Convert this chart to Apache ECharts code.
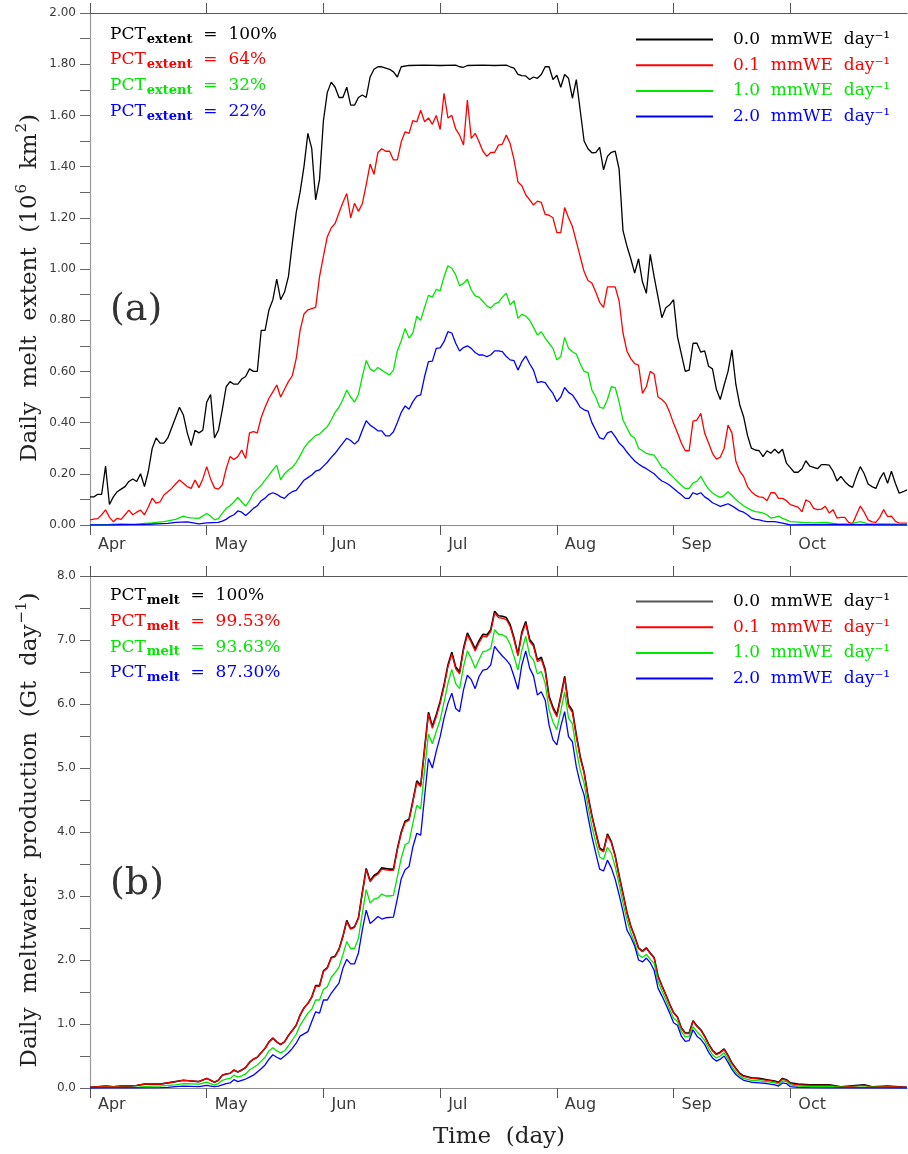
<!DOCTYPE html>
<html>
<head>
<meta charset="utf-8">
<title>Daily melt extent and meltwater production</title>
<script src="https://cdn.jsdelivr.net/npm/echarts@6/dist/echarts.min.js"></script>
<style>
  html, body { margin: 0; padding: 0; background: #ffffff; }
  #chart { width: 908px; height: 1154px; }
</style>
</head>
<body>
<div id="chart"></div>
<script>
// Days counted from 1 April; one month tick every 30 days.
const monthNames = ['Apr', 'May', 'Jun', 'Jul', 'Aug', 'Sep', 'Oct'];
const monthTicks = [0, 30, 60, 90, 120, 150, 180];

// Melt thresholds (legend) and summary percentages
const thresholdValues = ['0.0', '0.1', '1.0', '2.0'];
const thresholdNames = thresholdValues.map(function (t) { return t + ' mmWE day\u207B\u00B9'; });
const seriesColors = ['#000000', '#ff0000', '#00e600', '#0000ff'];
const pctExtent = ['100%', '64%', '32%', '22%'];
const pctMelt = ['100%', '99.53%', '93.63%', '87.30%'];

// (a) Daily melt extent, 10^6 km^2, as [day, value]
const extent00 = [[0,0.11],[1,0.11],[2,0.12],[3,0.12],[4,0.23],[5,0.08],[6,0.11],[7,0.13],[8,0.14],[9,0.15],[10,0.17],[11,0.18],[12,0.17],[13,0.20],[14,0.15],[15,0.21],[16,0.30],[17,0.34],[18,0.32],[19,0.32],[20,0.34],[21,0.38],[22,0.42],[23,0.46],[24,0.43],[25,0.36],[26,0.31],[27,0.37],[28,0.36],[29,0.37],[30,0.48],[31,0.51],[32,0.34],[33,0.37],[34,0.45],[35,0.54],[36,0.56],[37,0.55],[38,0.55],[39,0.57],[40,0.58],[41,0.61],[42,0.60],[43,0.60],[44,0.76],[45,0.76],[46,0.84],[47,0.88],[48,0.96],[49,0.88],[50,0.91],[51,0.97],[52,1.10],[53,1.22],[54,1.30],[55,1.40],[56,1.53],[57,1.47],[58,1.27],[59,1.35],[60,1.58],[61,1.69],[62,1.73],[63,1.71],[64,1.67],[65,1.67],[66,1.71],[67,1.64],[68,1.64],[69,1.67],[70,1.68],[71,1.67],[72,1.75],[73,1.78],[74,1.79],[75,1.79],[76,1.785],[77,1.78],[78,1.77],[79,1.75],[80,1.79],[82,1.795],[86,1.796],[90,1.795],[94,1.796],[95,1.79],[96,1.788],[97,1.795],[101,1.796],[104,1.795],[107,1.796],[108,1.79],[109,1.785],[110,1.76],[111,1.755],[112,1.754],[113,1.74],[114,1.75],[115,1.745],[116,1.76],[117,1.79],[118,1.79],[119,1.74],[120,1.757],[121,1.71],[122,1.76],[123,1.745],[124,1.667],[125,1.74],[126,1.62],[127,1.50],[128,1.47],[129,1.454],[130,1.455],[131,1.475],[132,1.387],[133,1.44],[134,1.456],[135,1.46],[136,1.39],[137,1.15],[138,1.09],[139,1.04],[140,0.984],[141,1.04],[142,0.95],[143,0.905],[144,1.057],[145,0.97],[147,0.81],[148,0.849],[149,0.86],[150,0.88],[151,0.736],[153,0.60],[154,0.605],[155,0.71],[156,0.71],[157,0.675],[158,0.68],[159,0.62],[160,0.61],[161,0.53],[162,0.49],[163,0.547],[164,0.60],[165,0.684],[166,0.55],[167,0.47],[168,0.423],[169,0.35],[170,0.30],[171,0.293],[172,0.29],[173,0.267],[174,0.29],[175,0.28],[176,0.296],[177,0.28],[178,0.296],[179,0.242],[180,0.224],[181,0.206],[182,0.206],[183,0.22],[184,0.251],[185,0.23],[186,0.225],[187,0.22],[188,0.236],[189,0.236],[190,0.234],[191,0.21],[192,0.172],[193,0.19],[194,0.17],[195,0.155],[196,0.147],[197,0.19],[198,0.228],[199,0.20],[200,0.16],[201,0.15],[202,0.143],[203,0.18],[204,0.205],[205,0.163],[206,0.21],[207,0.163],[208,0.124],[209,0.13],[210,0.137]];
const extent01 = [[0,0.02],[1,0.023],[2,0.025],[3,0.04],[4,0.059],[5,0.03],[6,0.013],[7,0.026],[8,0.022],[9,0.04],[10,0.058],[11,0.04],[12,0.05],[13,0.058],[14,0.04],[15,0.07],[16,0.105],[17,0.085],[18,0.09],[19,0.117],[20,0.13],[21,0.143],[22,0.16],[23,0.176],[24,0.163],[25,0.15],[26,0.143],[27,0.176],[28,0.146],[29,0.18],[30,0.228],[31,0.18],[32,0.145],[33,0.14],[34,0.156],[35,0.22],[36,0.267],[37,0.256],[38,0.267],[39,0.293],[40,0.26],[41,0.36],[42,0.365],[43,0.36],[44,0.42],[45,0.46],[46,0.495],[47,0.52],[48,0.547],[49,0.50],[50,0.53],[51,0.56],[52,0.583],[53,0.65],[54,0.76],[55,0.824],[56,0.84],[57,0.845],[58,0.85],[59,0.97],[60,1.05],[61,1.126],[62,1.16],[63,1.178],[64,1.22],[65,1.26],[66,1.295],[67,1.20],[68,1.257],[69,1.225],[70,1.255],[71,1.33],[72,1.41],[73,1.37],[74,1.455],[75,1.47],[76,1.46],[77,1.46],[78,1.426],[79,1.426],[80,1.497],[81,1.536],[82,1.53],[83,1.58],[84,1.575],[85,1.62],[86,1.575],[87,1.59],[88,1.565],[89,1.60],[90,1.545],[91,1.686],[92,1.59],[93,1.60],[94,1.547],[95,1.523],[96,1.484],[97,1.66],[98,1.51],[99,1.53],[100,1.497],[101,1.46],[102,1.44],[103,1.455],[104,1.455],[105,1.484],[106,1.488],[107,1.523],[108,1.49],[109,1.426],[110,1.34],[111,1.325],[112,1.29],[113,1.27],[114,1.25],[115,1.265],[116,1.26],[117,1.213],[118,1.21],[119,1.20],[120,1.142],[121,1.142],[122,1.24],[123,1.20],[124,1.166],[125,1.107],[126,1.048],[127,0.99],[128,0.955],[129,0.945],[130,0.91],[131,0.87],[132,0.85],[133,0.93],[134,0.93],[135,0.93],[136,0.875],[137,0.75],[138,0.68],[139,0.65],[140,0.63],[141,0.625],[142,0.514],[143,0.54],[144,0.60],[145,0.59],[146,0.50],[147,0.49],[148,0.475],[149,0.44],[150,0.397],[151,0.36],[152,0.32],[153,0.29],[154,0.29],[155,0.406],[156,0.41],[157,0.436],[158,0.358],[159,0.32],[160,0.28],[161,0.257],[162,0.265],[163,0.30],[164,0.39],[165,0.36],[166,0.25],[167,0.21],[168,0.19],[169,0.15],[170,0.13],[171,0.117],[172,0.11],[173,0.108],[174,0.095],[175,0.126],[176,0.126],[177,0.104],[178,0.104],[179,0.095],[180,0.08],[181,0.075],[182,0.07],[183,0.052],[184,0.098],[185,0.09],[186,0.065],[187,0.06],[188,0.062],[189,0.073],[190,0.047],[191,0.06],[192,0.027],[193,0.03],[194,0.03],[195,0.01],[196,0.005],[197,0.04],[198,0.074],[199,0.05],[200,0.02],[201,0.012],[202,0.01],[203,0.03],[204,0.06],[205,0.033],[206,0.035],[207,0.015],[208,0.007],[209,0.007],[210,0.007]];
const extent10 = [[0,0],[5,0.002],[8,0.004],[11,0.0],[14,0.006],[16,0.008],[19,0.013],[22,0.022],[24,0.035],[25,0.03],[26,0.028],[28,0.026],[30,0.045],[31,0.035],[32,0.02],[33,0.025],[34,0.045],[35,0.065],[36,0.075],[37,0.09],[38,0.108],[39,0.09],[40,0.074],[41,0.095],[42,0.125],[43,0.14],[44,0.155],[45,0.175],[46,0.195],[47,0.215],[48,0.234],[49,0.176],[50,0.20],[51,0.215],[52,0.225],[53,0.245],[54,0.27],[55,0.30],[56,0.32],[57,0.335],[58,0.35],[59,0.355],[60,0.37],[61,0.384],[62,0.41],[63,0.44],[64,0.46],[65,0.49],[66,0.527],[67,0.50],[68,0.48],[69,0.51],[70,0.58],[71,0.642],[72,0.61],[73,0.60],[74,0.615],[75,0.605],[76,0.595],[77,0.586],[78,0.605],[79,0.68],[80,0.72],[81,0.768],[82,0.73],[83,0.75],[84,0.816],[85,0.80],[86,0.85],[87,0.897],[88,0.89],[89,0.92],[90,0.915],[91,0.97],[92,1.013],[93,1.003],[94,0.977],[95,0.934],[96,0.944],[97,0.96],[98,0.918],[99,0.895],[100,0.89],[101,0.873],[102,0.856],[103,0.847],[104,0.864],[105,0.87],[106,0.89],[107,0.905],[108,0.86],[109,0.876],[110,0.807],[111,0.823],[112,0.816],[113,0.80],[114,0.772],[115,0.742],[116,0.755],[117,0.73],[118,0.71],[119,0.69],[120,0.645],[121,0.658],[122,0.733],[123,0.69],[124,0.677],[125,0.668],[126,0.63],[127,0.60],[128,0.595],[129,0.527],[130,0.50],[131,0.46],[132,0.456],[133,0.49],[134,0.54],[135,0.537],[136,0.48],[137,0.41],[138,0.38],[139,0.35],[140,0.34],[141,0.30],[142,0.29],[143,0.28],[144,0.276],[145,0.273],[146,0.25],[147,0.225],[148,0.218],[149,0.20],[150,0.185],[151,0.17],[152,0.155],[153,0.143],[154,0.143],[155,0.165],[156,0.17],[157,0.19],[158,0.163],[159,0.14],[160,0.125],[161,0.115],[162,0.108],[163,0.115],[164,0.13],[165,0.115],[166,0.1],[167,0.087],[168,0.075],[169,0.066],[170,0.058],[171,0.052],[172,0.05],[173,0.046],[174,0.04],[175,0.027],[176,0.03],[177,0.035],[178,0.026],[179,0.02],[180,0.013],[183,0.01],[186,0.008],[189,0.01],[192,0.004],[195,0.003],[198,0.013],[200,0.004],[205,0.004],[210,0.003]];
const extent20 = [[0,0],[5,0.0],[10,0.002],[15,0.003],[20,0.006],[22,0.01],[25,0.012],[28,0.004],[30,0.008],[33,0.01],[34,0.015],[35,0.022],[36,0.033],[37,0.04],[38,0.055],[39,0.05],[40,0.037],[41,0.05],[42,0.065],[43,0.075],[44,0.095],[45,0.105],[46,0.12],[47,0.126],[48,0.12],[49,0.11],[50,0.104],[51,0.12],[52,0.13],[53,0.135],[54,0.155],[55,0.175],[56,0.185],[57,0.195],[58,0.21],[59,0.215],[60,0.23],[61,0.245],[62,0.264],[63,0.28],[64,0.30],[65,0.32],[66,0.339],[67,0.33],[68,0.316],[69,0.33],[70,0.37],[71,0.407],[72,0.39],[73,0.38],[74,0.368],[75,0.368],[76,0.348],[77,0.348],[78,0.364],[79,0.40],[80,0.44],[81,0.465],[82,0.452],[83,0.482],[84,0.503],[85,0.508],[86,0.58],[87,0.638],[88,0.64],[89,0.69],[90,0.692],[91,0.716],[92,0.755],[93,0.75],[94,0.71],[95,0.68],[96,0.693],[97,0.70],[98,0.69],[99,0.674],[100,0.664],[101,0.664],[102,0.658],[103,0.664],[104,0.68],[105,0.68],[106,0.677],[107,0.658],[108,0.645],[109,0.642],[110,0.605],[111,0.638],[112,0.66],[113,0.63],[114,0.605],[115,0.556],[116,0.56],[117,0.556],[118,0.534],[119,0.514],[120,0.482],[121,0.50],[122,0.537],[123,0.518],[124,0.508],[125,0.486],[126,0.46],[127,0.45],[128,0.445],[129,0.40],[130,0.37],[131,0.34],[132,0.335],[133,0.36],[134,0.366],[135,0.345],[136,0.32],[137,0.306],[138,0.285],[139,0.267],[140,0.25],[141,0.238],[142,0.228],[143,0.22],[144,0.21],[145,0.2],[146,0.185],[147,0.172],[148,0.165],[149,0.155],[150,0.143],[151,0.13],[152,0.118],[153,0.104],[154,0.104],[155,0.126],[156,0.12],[157,0.126],[158,0.11],[159,0.1],[160,0.087],[161,0.08],[162,0.073],[163,0.078],[164,0.083],[165,0.075],[166,0.065],[167,0.055],[168,0.05],[169,0.04],[170,0.027],[171,0.022],[172,0.02],[173,0.016],[174,0.013],[176,0.013],[178,0.007],[180,0.0],[190,0.002],[200,0.001],[210,0.0]];

// (b) Daily meltwater production, Gt day^-1, as [day, value]
const melt00 = [[0,0.01],[2,0.02],[4,0.03],[6,0.02],[8,0.03],[10,0.03],[12,0.04],[14,0.06],[16,0.06],[18,0.06],[20,0.08],[22,0.10],[24,0.12],[26,0.11],[28,0.10],[30,0.15],[31,0.12],[32,0.09],[33,0.12],[34,0.20],[35,0.22],[36,0.23],[37,0.28],[38,0.25],[39,0.28],[40,0.32],[41,0.40],[42,0.45],[43,0.48],[44,0.55],[45,0.62],[46,0.72],[47,0.78],[48,0.72],[49,0.68],[50,0.72],[51,0.82],[52,0.90],[53,0.98],[54,1.14],[55,1.25],[56,1.32],[57,1.42],[58,1.60],[59,1.60],[60,1.83],[61,1.88],[62,2.04],[63,2.06],[64,2.17],[65,2.37],[66,2.62],[67,2.49],[68,2.52],[69,2.66],[70,3.06],[71,3.43],[72,3.24],[73,3.32],[74,3.36],[75,3.44],[76,3.43],[77,3.42],[78,3.42],[79,3.74],[80,4.00],[81,4.17],[82,4.20],[83,4.49],[84,4.80],[85,4.73],[86,5.31],[87,5.87],[88,5.65],[89,5.83],[90,6.04],[91,6.30],[92,6.61],[93,6.81],[94,6.58],[95,6.50],[96,6.87],[97,7.11],[98,6.99],[99,6.86],[100,6.99],[101,7.09],[102,7.08],[103,7.16],[104,7.45],[105,7.38],[106,7.37],[107,7.35],[108,7.24],[109,7.03],[110,6.78],[111,7.12],[112,7.29],[113,7.01],[114,6.93],[115,6.69],[116,6.73],[117,6.54],[118,6.12],[119,5.95],[120,5.83],[121,6.12],[122,6.43],[123,5.99],[124,5.90],[125,5.52],[126,5.18],[127,4.94],[128,4.57],[129,4.26],[130,4.00],[131,3.75],[132,3.71],[133,3.97],[134,3.85],[135,3.63],[136,3.32],[137,3.04],[138,2.75],[139,2.53],[140,2.37],[141,2.19],[142,2.14],[143,2.19],[144,2.11],[145,2.04],[146,1.75],[147,1.60],[148,1.46],[149,1.31],[150,1.18],[151,1.11],[152,0.94],[153,0.86],[154,0.86],[155,1.05],[156,0.97],[157,0.91],[158,0.81],[159,0.69],[160,0.59],[161,0.53],[162,0.56],[163,0.61],[164,0.51],[165,0.39],[166,0.31],[167,0.23],[168,0.19],[170,0.16],[172,0.15],[174,0.13],[176,0.11],[177,0.09],[178,0.15],[179,0.13],[180,0.08],[182,0.06],[185,0.05],[190,0.05],[193,0.02],[199,0.05],[201,0.02],[205,0.03],[210,0.01]];
const melt01 = [[0,0.01],[2,0.02],[4,0.03],[6,0.02],[8,0.03],[10,0.03],[12,0.04],[14,0.06],[16,0.06],[18,0.06],[20,0.08],[22,0.10],[24,0.12],[26,0.11],[28,0.10],[30,0.15],[31,0.12],[32,0.09],[33,0.12],[34,0.20],[35,0.22],[36,0.23],[37,0.28],[38,0.25],[39,0.28],[40,0.32],[41,0.40],[42,0.45],[43,0.48],[44,0.55],[45,0.62],[46,0.72],[47,0.78],[48,0.72],[49,0.68],[50,0.72],[51,0.82],[52,0.90],[53,0.98],[54,1.14],[55,1.25],[56,1.32],[57,1.42],[58,1.59],[59,1.59],[60,1.82],[61,1.87],[62,2.03],[63,2.05],[64,2.16],[65,2.36],[66,2.60],[67,2.48],[68,2.51],[69,2.65],[70,3.04],[71,3.41],[72,3.22],[73,3.30],[74,3.34],[75,3.42],[76,3.41],[77,3.40],[78,3.40],[79,3.72],[80,3.98],[81,4.15],[82,4.18],[83,4.47],[84,4.77],[85,4.71],[86,5.28],[87,5.84],[88,5.62],[89,5.80],[90,6.01],[91,6.27],[92,6.58],[93,6.78],[94,6.55],[95,6.47],[96,6.84],[97,7.08],[98,6.96],[99,6.83],[100,6.96],[101,7.06],[102,7.05],[103,7.13],[104,7.42],[105,7.35],[106,7.34],[107,7.32],[108,7.21],[109,7.00],[110,6.75],[111,7.09],[112,7.26],[113,6.98],[114,6.90],[115,6.66],[116,6.70],[117,6.51],[118,6.09],[119,5.92],[120,5.80],[121,6.09],[122,6.40],[123,5.96],[124,5.87],[125,5.49],[126,5.15],[127,4.92],[128,4.55],[129,4.24],[130,3.98],[131,3.73],[132,3.69],[133,3.95],[134,3.83],[135,3.61],[136,3.30],[137,3.02],[138,2.73],[139,2.52],[140,2.36],[141,2.18],[142,2.13],[143,2.18],[144,2.10],[145,2.03],[146,1.74],[147,1.59],[148,1.45],[149,1.30],[150,1.17],[151,1.10],[152,0.93],[153,0.85],[154,0.85],[155,1.04],[156,0.96],[157,0.90],[158,0.80],[159,0.68],[160,0.58],[161,0.52],[162,0.55],[163,0.60],[164,0.50],[165,0.38],[166,0.30],[167,0.22],[168,0.18],[170,0.15],[172,0.14],[174,0.12],[176,0.10],[177,0.08],[178,0.14],[179,0.12],[180,0.07],[182,0.05],[185,0.04],[190,0.04],[193,0.015],[199,0.04],[201,0.015],[205,0.025],[210,0.01]];
const melt10 = [[0,0.005],[4,0.01],[8,0.01],[12,0.01],[14,0.02],[16,0.03],[18,0.03],[20,0.04],[22,0.05],[24,0.07],[26,0.065],[28,0.06],[30,0.09],[31,0.07],[32,0.05],[33,0.07],[34,0.12],[35,0.14],[36,0.15],[37,0.20],[38,0.17],[39,0.19],[40,0.22],[41,0.28],[42,0.32],[43,0.36],[44,0.42],[45,0.48],[46,0.58],[47,0.63],[48,0.58],[49,0.55],[50,0.58],[51,0.66],[52,0.75],[53,0.84],[54,0.98],[56,1.17],[57,1.23],[58,1.375],[59,1.375],[60,1.54],[61,1.58],[62,1.73],[63,1.80],[64,1.89],[65,2.08],[66,2.29],[67,2.18],[68,2.18],[69,2.34],[70,2.73],[71,3.10],[72,2.89],[73,2.95],[74,2.97],[75,3.03],[76,3.00],[77,3.00],[78,3.01],[79,3.30],[80,3.59],[81,3.80],[82,3.84],[83,4.14],[84,4.42],[85,4.36],[86,4.97],[87,5.53],[88,5.38],[89,5.57],[90,5.75],[91,6.03],[92,6.32],[93,6.54],[94,6.32],[95,6.24],[96,6.58],[97,6.83],[98,6.71],[99,6.56],[100,6.69],[101,6.82],[102,6.83],[103,6.87],[104,7.16],[105,7.09],[106,7.08],[107,7.05],[108,6.93],[109,6.74],[110,6.53],[111,6.84],[112,7.06],[113,6.76],[114,6.69],[115,6.47],[116,6.51],[117,6.32],[118,5.91],[119,5.72],[120,5.60],[121,5.89],[122,6.19],[123,5.78],[124,5.69],[125,5.28],[126,4.97],[127,4.76],[128,4.40],[129,4.09],[130,3.84],[131,3.61],[132,3.57],[133,3.76],[134,3.67],[135,3.46],[136,3.18],[137,2.89],[138,2.63],[139,2.43],[140,2.27],[141,2.08],[142,2.04],[143,2.09],[144,2.01],[145,1.95],[146,1.66],[147,1.52],[148,1.38],[149,1.23],[150,1.09],[151,1.04],[152,0.88],[153,0.80],[154,0.81],[155,0.96],[156,0.88],[157,0.82],[158,0.74],[159,0.62],[160,0.52],[161,0.47],[162,0.50],[163,0.55],[164,0.45],[165,0.33],[166,0.25],[167,0.19],[168,0.15],[170,0.12],[172,0.11],[174,0.10],[176,0.08],[177,0.06],[178,0.11],[179,0.10],[180,0.05],[182,0.03],[185,0.02],[190,0.02],[195,0.01],[200,0.015],[210,0.005]];
const melt20 = [[0,0.0],[6,0.002],[12,0.003],[18,0.005],[20,0.01],[22,0.02],[24,0.03],[26,0.025],[28,0.02],[30,0.04],[31,0.03],[32,0.02],[33,0.03],[34,0.05],[35,0.07],[36,0.08],[37,0.13],[38,0.10],[39,0.12],[40,0.14],[41,0.17],[42,0.20],[43,0.25],[44,0.30],[45,0.36],[46,0.45],[47,0.52],[48,0.48],[49,0.45],[50,0.50],[51,0.55],[52,0.62],[53,0.70],[54,0.81],[56,0.88],[57,1.04],[58,1.19],[59,1.17],[60,1.375],[61,1.375],[62,1.48],[63,1.56],[64,1.64],[65,1.87],[66,2.01],[67,1.94],[68,1.94],[69,2.11],[70,2.47],[71,2.78],[72,2.57],[73,2.62],[74,2.68],[75,2.64],[76,2.66],[78,2.67],[79,2.96],[80,3.27],[81,3.41],[82,3.46],[83,3.77],[84,3.98],[85,3.95],[86,4.55],[87,5.15],[88,5.00],[89,5.26],[90,5.49],[91,5.78],[92,6.01],[93,6.17],[94,5.93],[95,5.88],[96,6.22],[97,6.45],[98,6.38],[99,6.24],[100,6.43],[101,6.53],[102,6.54],[103,6.61],[104,6.90],[105,6.82],[106,6.75],[107,6.69],[108,6.61],[109,6.43],[110,6.23],[111,6.61],[112,6.83],[113,6.56],[114,6.44],[115,6.14],[116,6.19],[117,6.06],[118,5.67],[119,5.44],[120,5.36],[121,5.65],[122,5.88],[123,5.49],[124,5.41],[125,5.02],[126,4.76],[127,4.58],[128,4.24],[129,3.93],[130,3.67],[131,3.42],[132,3.39],[133,3.56],[134,3.44],[135,3.26],[136,3.02],[137,2.76],[138,2.47],[139,2.36],[140,2.22],[141,2.00],[142,1.97],[143,2.03],[144,1.96],[145,1.84],[146,1.56],[147,1.44],[148,1.31],[149,1.17],[150,1.02],[151,0.98],[152,0.81],[153,0.73],[154,0.74],[155,0.91],[156,0.81],[157,0.76],[158,0.68],[159,0.56],[160,0.47],[161,0.42],[162,0.45],[163,0.50],[164,0.40],[165,0.29],[166,0.21],[167,0.16],[168,0.12],[170,0.09],[172,0.08],[174,0.07],[176,0.05],[177,0.03],[178,0.08],[179,0.07],[180,0.02],[182,0.01],[185,0.005],[190,0.003],[210,0.0]];

const extentSeries = [extent00, extent01, extent10, extent20];
const meltSeries = [melt00, melt01, melt10, melt20];

const tickFont = 'DejaVu Sans';
const textFont = 'DejaVu Serif';

function bottomAxis(gridIndex, labelMargin) {
  return {
    type: 'value', gridIndex: gridIndex, position: 'bottom',
    min: 0, max: 210, interval: 30,
    axisLine: { show: true, lineStyle: { color: '#8c8c8c', width: 1.2 } },
    axisTick: { show: true, inside: false, length: 10, customValues: monthTicks, lineStyle: { color: '#555', width: 1 } },
    axisLabel: {
      show: true, customValues: monthTicks, margin: labelMargin, align: 'left', padding: [0, 0, 0, 8],
      fontFamily: tickFont, fontSize: 16, color: '#3a3a3a',
      formatter: function (v) { return monthNames[Math.round(v / 30)] || ''; }
    },
    splitLine: { show: false }
  };
}
function topAxis(gridIndex) {
  return {
    type: 'value', gridIndex: gridIndex, position: 'top',
    min: 0, max: 210, interval: 30,
    axisLine: { show: true, lineStyle: { color: '#555', width: 1.2 } },
    axisTick: { show: true, inside: false, length: 10, customValues: monthTicks, lineStyle: { color: '#555', width: 1 } },
    axisLabel: { show: false },
    splitLine: { show: false }
  };
}
function leftAxis(gridIndex, max, interval, labelEvery, digits) {
  return {
    type: 'value', gridIndex: gridIndex, min: 0, max: max, interval: interval,
    axisLine: { show: true, lineStyle: { color: '#9a9a9a', width: 1.2 } },
    axisTick: { show: true, inside: false, length: 10, lineStyle: { color: '#666', width: 1 } },
    axisLabel: {
      margin: 14, fontFamily: tickFont, fontSize: 12, color: '#3a3a3a',
      formatter: function (v) {
        const k = Math.round(v / interval);
        return (k % labelEvery === 0) ? v.toFixed(digits) : '';
      }
    },
    splitLine: { show: false }
  };
}

const series = [];
thresholdNames.forEach(function (name, i) {
  series.push({
    name: name, type: 'line', xAxisIndex: 0, yAxisIndex: 0,
    data: extentSeries[i], showSymbol: false, symbol: 'none',
    lineStyle: { color: seriesColors[i], width: 1.3 }, itemStyle: { color: seriesColors[i] },
    z: 2 + i, animation: false
  });
});
thresholdNames.forEach(function (name, i) {
  series.push({
    name: name, type: 'line', xAxisIndex: 2, yAxisIndex: 1,
    data: meltSeries[i], showSymbol: false, symbol: 'none',
    lineStyle: { color: seriesColors[i], width: i === 0 ? 1.6 : 1.3 }, itemStyle: { color: seriesColors[i] },
    z: 2 + i, animation: false
  });
});

// Threshold legend; bottom padding lifts each label a little above its line
function legendBlock(top, firstIconColor) {
  return {
    orient: 'vertical', left: 636, top: top, padding: 0, itemGap: -3.3,
    itemWidth: 77, itemHeight: 2, icon: 'rect', selectedMode: false,
    data: thresholdNames.map(function (n, i) {
      const item = { name: n, textStyle: { color: seriesColors[i] } };
      if (i === 0 && firstIconColor) { item.itemStyle = { color: firstIconColor }; }
      return item;
    }),
    formatter: function (name) {
      const idx = thresholdNames.indexOf(name);
      return thresholdValues[idx] + '  mmWE  day\u207B\u00B9';
    },
    textStyle: { fontFamily: textFont, fontSize: 17, lineHeight: 17, padding: [0, 0, 12, 15] }
  };
}

// Percentage annotations with a bold subscript
function pctText(label, values, firstTop) {
  return values.map(function (val, i) {
    const c = seriesColors[i];
    return {
      type: 'text', left: 110, top: firstTop + i * 25.8, z: 20,
      style: {
        text: '{m|PCT}{s|' + label + '}{m|  =  ' + val + '}',
        rich: {
          m: { fontFamily: textFont, fontSize: 17, lineHeight: 20, verticalAlign: 'top', fill: c },
          s: { fontFamily: textFont, fontSize: 13, fontWeight: 'bold', lineHeight: 13, padding: [10, 0, 0, 1], verticalAlign: 'bottom', fill: c }
        }
      }
    };
  });
}

// Rotated axis title with raised exponents
function axisTitle(parts, x, y) {
  return {
    type: 'text', x: x, y: y, rotation: Math.PI / 2, z: 20,
    style: {
      text: parts, fill: '#222', textAlign: 'center', textVerticalAlign: 'middle',
      rich: {
        m: { fontFamily: textFont, fontSize: 23, lineHeight: 27, verticalAlign: 'bottom', fill: '#222' },
        p: { fontFamily: textFont, fontSize: 15, lineHeight: 15, padding: [0, 0, 11, 1], verticalAlign: 'top', fill: '#222' }
      }
    }
  };
}

const graphics = [].concat(
  pctText('extent', pctExtent, 22.7),
  pctText('melt', pctMelt, 584),
  [
    { type: 'text', left: 110, top: 291, z: 20, style: { text: '(a)', font: '38px "DejaVu Serif"', fill: '#333' } },
    { type: 'text', left: 110, top: 865, z: 20, style: { text: '(b)', font: '38px "DejaVu Serif"', fill: '#333' } },
    axisTitle('{m|Daily  melt  extent  (10}{p|6}{m|  km}{p|2}{m|)}', 28, 288),
    axisTitle('{m|Daily  meltwater  production  (Gt  day}{p|\u22121}{m|)}', 28, 830),
    { type: 'text', x: 499, y: 1137, z: 20,
      style: { text: 'Time  (day)', font: '23px "DejaVu Serif"', fill: '#222', textAlign: 'center', textVerticalAlign: 'middle' } }
  ]
);

const chart = echarts.init(document.getElementById('chart'), null, { renderer: 'canvas' });
chart.setOption({
  backgroundColor: '#ffffff',
  animation: false,
  grid: [
    { left: 90, top: 13, width: 817, height: 512 },
    { left: 90, top: 576, width: 817, height: 512 }
  ],
  xAxis: [bottomAxis(0, 12), topAxis(0), bottomAxis(1, 9), topAxis(1)],
  yAxis: [leftAxis(0, 2, 0.1, 2, 2), leftAxis(1, 8, 0.5, 2, 1)],
  legend: [legendBlock(25, null), legendBlock(587, '#555555')],
  series: series,
  graphic: graphics
});
</script>
</body>
</html>
